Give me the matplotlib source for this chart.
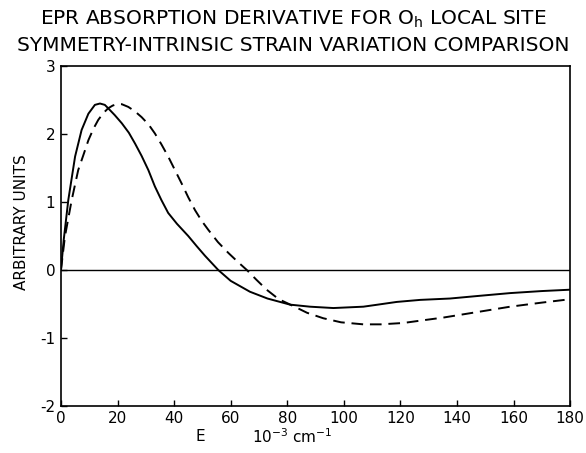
import matplotlib
matplotlib.use("Agg")
import matplotlib.pyplot as plt

plt.rcParams["axes.unicode_minus"] = False

# Data (E in 10^-3 cm^-1, arbitrary units)
solid_x = [0, 1, 2.6, 5.0, 7.3, 9.7, 12.0, 13.8, 15.5, 16.7, 19, 21.5, 24, 26.2,
           28.5, 30.9, 33.2, 35.5, 37.9, 41, 45.0, 48, 50.9, 55.6, 60, 66.8, 73,
           81.0, 88, 96.3, 106.9, 112, 118.7, 127, 137.5, 148, 158.8, 170, 180]
solid_y = [0, 0.45, 1.03, 1.67, 2.06, 2.30, 2.43, 2.45, 2.43, 2.38, 2.28, 2.16,
           2.02, 1.86, 1.68, 1.47, 1.23, 1.03, 0.84, 0.68, 0.50, 0.35, 0.21, 0.0,
           -0.16, -0.32, -0.42, -0.51, -0.54, -0.56, -0.54, -0.51, -0.47, -0.44,
           -0.42, -0.38, -0.34, -0.31, -0.29]

dashed_x = [0, 1.4, 3.8, 6.1, 8, 9.7, 11.5, 13.2, 15, 16.7, 18.3, 19.8, 21.5,
            23.8, 26, 28.5, 31, 33.2, 35.5, 37.9, 40.3, 42.7, 45, 47.4, 49.8,
            52.1, 55.5, 59.2, 62.5, 65.7, 69, 72.7, 77, 82.1, 87, 92.7, 99,
            106.9, 113, 121.0, 128, 135.2, 147, 158.8, 170, 180]
dashed_y = [0, 0.49, 1.03, 1.47, 1.70, 1.91, 2.08, 2.21, 2.31, 2.38, 2.42, 2.44,
            2.44, 2.40, 2.34, 2.25, 2.14, 2.01, 1.85, 1.67, 1.47, 1.27, 1.07,
            0.88, 0.72, 0.59, 0.41, 0.25, 0.12, 0.0, -0.14, -0.29, -0.43, -0.53,
            -0.63, -0.71, -0.77, -0.80, -0.80, -0.78, -0.74, -0.70, -0.62, -0.54,
            -0.48, -0.43]

x_ticks = list(range(0, 181, 20))
y_ticks = [-2, -1, 0, 1, 2, 3]

fig = plt.figure(figsize=(5.86, 4.53), dpi=100)
ax = fig.add_axes([0.104, 0.104, 0.869, 0.750])

ax.axhline(0, color="black", lw=1.0)
ax.plot(solid_x, solid_y, color="black", lw=1.4, solid_joinstyle="round")
ax.plot(dashed_x, dashed_y, color="black", lw=1.4, dashes=(6, 3.5))

ax.set_xlim(0, 180)
ax.set_ylim(-2, 3)
ax.set_xticks(x_ticks)
ax.set_yticks(y_ticks)
ax.tick_params(direction="in", length=4, width=1, labelsize=11, pad=4)
for s in ax.spines.values():
    s.set_linewidth(1.2)

ax.set_ylabel("ARBITRARY UNITS", fontsize=11)
ax.yaxis.set_label_coords(-0.063, 0.54)

ax.text(0.273, -0.091, "E", transform=ax.transAxes, fontsize=11,
        ha="center", va="center")
ax.text(0.454, -0.091, r"10$^{-3}$ cm$^{-1}$", transform=ax.transAxes,
        fontsize=11, ha="center", va="center")

fig.text(0.5, 0.958, r"EPR ABSORPTION DERIVATIVE FOR O$_{\rm h}$ LOCAL SITE",
         ha="center", va="center", fontsize=14.5)
fig.text(0.5, 0.900, "SYMMETRY-INTRINSIC STRAIN VARIATION COMPARISON",
         ha="center", va="center", fontsize=14.5)

fig.savefig("out.png", dpi=100)
